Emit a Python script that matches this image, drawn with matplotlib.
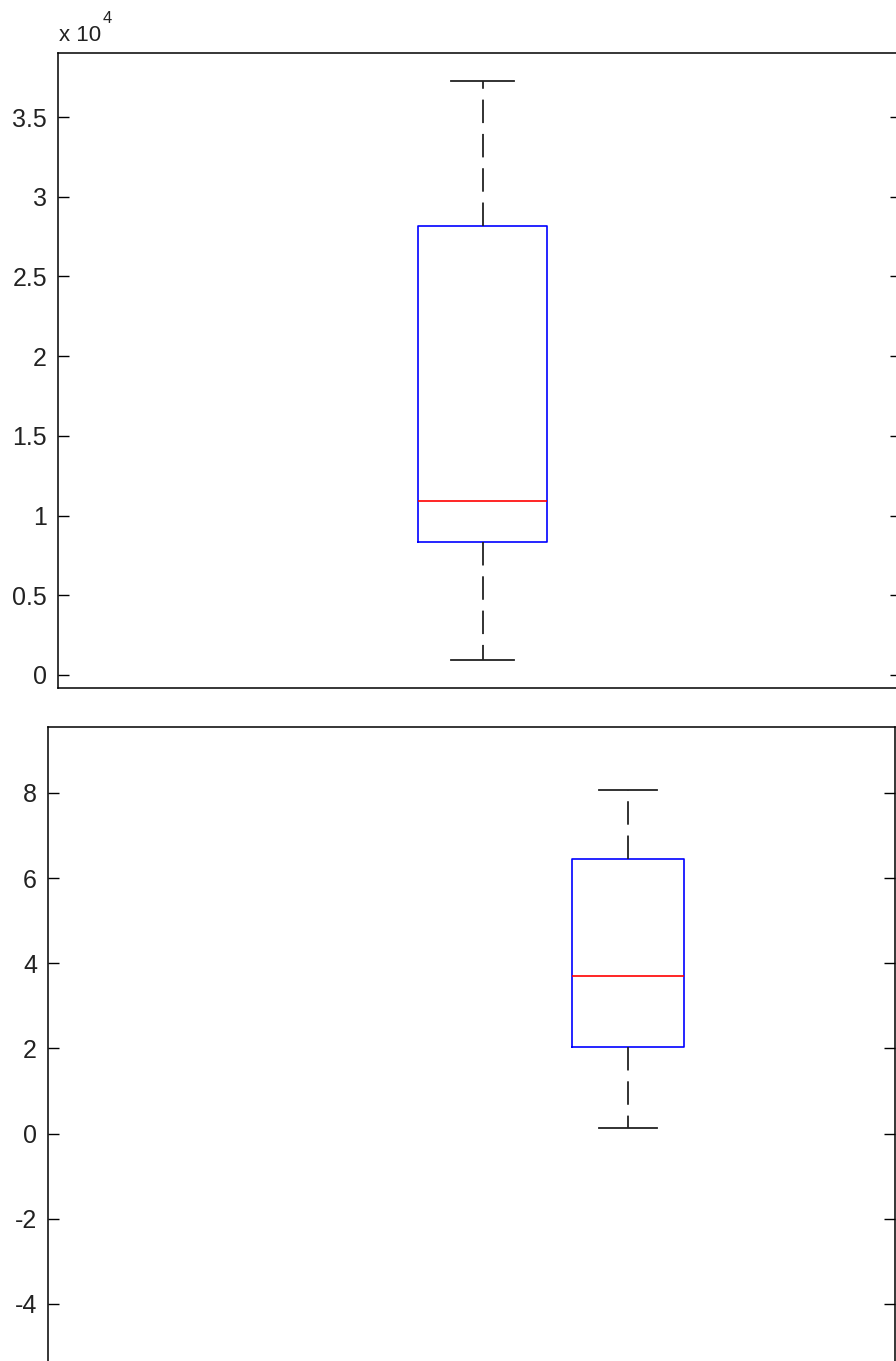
import numpy as np
import matplotlib
matplotlib.use("Agg")
import matplotlib.pyplot as plt

plt.rcParams['font.family'] = ['Liberation Sans', 'DejaVu Sans']

# ---------------------------------------------------------
# box statistics
# ---------------------------------------------------------

# top panel (values in units of 1)
top_whislo = 941
top_q1 = 8344
top_med = 10916
top_q3 = 28168
top_whishi = 37265
top_ticks = [0, 5000, 10000, 15000, 20000, 25000, 30000, 35000]
top_ticklabels = ["0", "0.5", "1", "1.5", "2", "2.5", "3", "3.5"]

# bottom panel
bot_whislo = 0.12
bot_q1 = 2.04
bot_med = 3.71
bot_q3 = 6.46
bot_whishi = 8.06
bot_ticks = [-4, -2, 0, 2, 4, 6, 8]
bot_ticklabels = ["-4", "-2", "0", "2", "4", "6", "8"]

W, H = 896, 1361
fig = plt.figure(figsize=(W / 100, H / 100), dpi=100)


def px_axes(left, top, right, bottom):
    return fig.add_axes([left / W, 1 - bottom / H, (right - left) / W, (bottom - top) / H])


def style(ax, ticks, labels):
    ax.set_xticks([])
    ax.set_yticks(ticks)
    ax.set_yticklabels(labels, fontsize=18, color="#222222")
    ax.tick_params(axis="y", direction="in", length=8, width=1.0, pad=8,
                   right=True, left=True, labelright=False)
    for s in ax.spines.values():
        s.set_linewidth(1.1)
        s.set_color("black")


def draw_box(ax, st, pos, width, capw):
    ax.bxp([st], positions=[pos], widths=[width], capwidths=[capw],
           showfliers=False, manage_ticks=False,
           boxprops=dict(color="#0000ff", linewidth=1.2),
           medianprops=dict(color="#ff0000", linewidth=1.2),
           whiskerprops=dict(color="#222222", linewidth=1.3, linestyle=(0, (13, 6))),
           capprops=dict(color="#222222", linewidth=1.3))


# ---------------------------------------------------------
# top panel
# ---------------------------------------------------------
ax1 = px_axes(58, 53, 901, 688)
st1 = dict(med=top_med, q1=top_q1, q3=top_q3, whislo=top_whislo, whishi=top_whishi, fliers=[])
draw_box(ax1, st1, 0.5036, 0.152, 0.075)
ax1.set_xlim(0, 1)
ax1.set_ylim(-816, 39021)
style(ax1, top_ticks, top_ticklabels)

fig.text(59 / W, 1 - 41 / H, "x 10", fontsize=16, color="#222222", ha="left", va="baseline")
fig.text(103 / W, 1 - 23 / H, "4", fontsize=12, color="#222222", ha="left", va="baseline")

# ---------------------------------------------------------
# bottom panel
# ---------------------------------------------------------
ax2 = px_axes(48, 727, 895, 1389)
st2 = dict(med=bot_med, q1=bot_q1, q3=bot_q3, whislo=bot_whislo, whishi=bot_whishi, fliers=[])
draw_box(ax2, st2, 0.685, 0.132, 0.0685)
ax2.set_xlim(0, 1)
ax2.set_ylim(-6, 9.55)
style(ax2, bot_ticks, bot_ticklabels)

fig.savefig("out.png", dpi=100)
